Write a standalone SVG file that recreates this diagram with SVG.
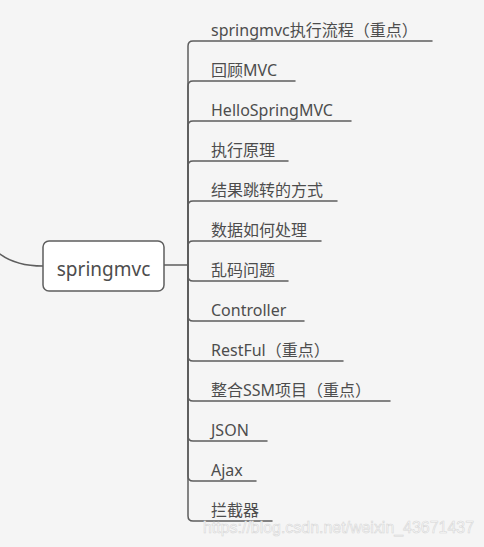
<svg xmlns="http://www.w3.org/2000/svg" width="484" height="547" viewBox="0 0 484 547">
<style>
.bg{fill:#f5f5f5}
.c{fill:none;stroke:#5e5e5e;stroke-width:1.5;stroke-linecap:round}
.t{font-family:"Noto Sans","Noto Sans CJK SC",sans-serif;font-size:16px;fill:#4d4d4d}
.root rect{fill:#ffffff;stroke:#5e5e5e;stroke-width:1.5}
.root text{font-family:"Noto Sans","Noto Sans CJK SC",sans-serif;font-size:19px;fill:#4d4d4d;text-anchor:middle}
.wm{font-family:"Liberation Sans",Arial,sans-serif;font-size:17px;fill:#fbfbfb;stroke:#d6d6d6;stroke-width:0.6}
</style>
<rect class="bg" x="0" y="0" width="484" height="547"/>
<g id="connectors">
<path class="c" d="M0,254 Q16,266 43,266"/>
<path class="c" d="M164,265 H188"/>
<path class="c" d="M188,265 V46 Q188,41 193,41 H432"/>
<path class="c" d="M188,265 V86 Q188,81 193,81 H295"/>
<path class="c" d="M188,265 V126 Q188,121 193,121 H351"/>
<path class="c" d="M188,265 V166 Q188,161 193,161 H288"/>
<path class="c" d="M188,265 V206 Q188,201 193,201 H337"/>
<path class="c" d="M188,265 V246 Q188,241 193,241 H321"/>
<path class="c" d="M188,265 V276 Q188,281 193,281 H288"/>
<path class="c" d="M188,265 V316 Q188,321 193,321 H304"/>
<path class="c" d="M188,265 V356 Q188,361 193,361 H343"/>
<path class="c" d="M188,265 V396 Q188,401 193,401 H390"/>
<path class="c" d="M188,265 V436 Q188,441 193,441 H267"/>
<path class="c" d="M188,265 V476 Q188,481 193,481 H256"/>
<path class="c" d="M188,265 V516 Q188,521 193,521 H272"/>
</g>
<g id="root" class="root">
<rect x="43" y="241" width="121" height="50" rx="6"/>
<text x="103.5" y="276">springmvc</text>
</g>
<g id="n1"><text class="t" x="211" y="36">springmvc执行流程（重点）</text></g>
<g id="n2"><text class="t" x="211" y="76">回顾MVC</text></g>
<g id="n3"><text class="t" x="211" y="116">HelloSpringMVC</text></g>
<g id="n4"><text class="t" x="211" y="156">执行原理</text></g>
<g id="n5"><text class="t" x="211" y="196">结果跳转的方式</text></g>
<g id="n6"><text class="t" x="211" y="236">数据如何处理</text></g>
<g id="n7"><text class="t" x="211" y="276">乱码问题</text></g>
<g id="n8"><text class="t" x="211" y="316">Controller</text></g>
<g id="n9"><text class="t" x="211" y="356">RestFul（重点）</text></g>
<g id="n10"><text class="t" x="211" y="396">整合SSM项目（重点）</text></g>
<g id="n11"><text class="t" x="211" y="436">JSON</text></g>
<g id="n12"><text class="t" x="211" y="476">Ajax</text></g>
<g id="n13"><text class="t" x="211" y="516">拦截器</text></g>
<text class="wm" x="203" y="533" textLength="271" lengthAdjust="spacingAndGlyphs">https://blog.csdn.net/weixin_43671437</text>
</svg>
